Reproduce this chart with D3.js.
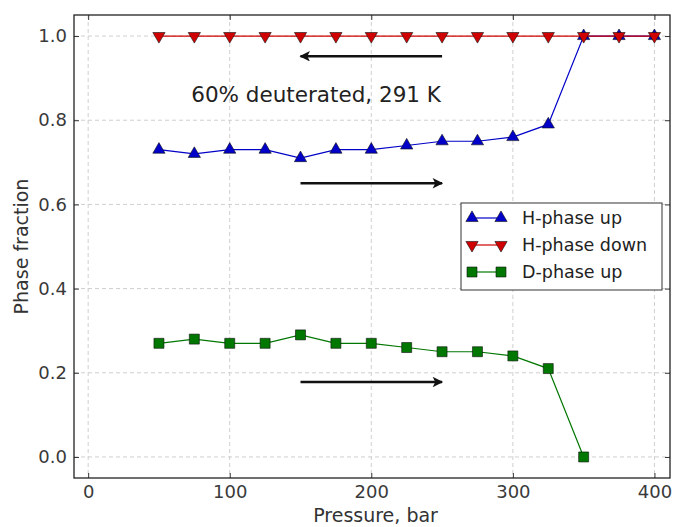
<!DOCTYPE html>
<html>
<head>
<meta charset="utf-8">
<script src="https://cdn.jsdelivr.net/npm/d3@7"></script>
<style>
  body { margin: 0; background: #fff; }
  svg { font-family: "DejaVu Sans", sans-serif; }
</style>
</head>
<body>
<div class="chart"></div>
<script>
// pressures and phase fractions
var pressure = [50, 75, 100, 125, 150, 175, 200, 225, 250, 275, 300, 325, 350, 375, 400];
var hUp = [0.73, 0.72, 0.73, 0.73, 0.71, 0.73, 0.73, 0.74, 0.75, 0.75, 0.76, 0.79, 1.0, 1.0, 1.0];
var hDown = [1.0, 1.0, 1.0, 1.0, 1.0, 1.0, 1.0, 1.0, 1.0, 1.0, 1.0, 1.0, 1.0, 1.0, 1.0];
var dPressure = [50, 75, 100, 125, 150, 175, 200, 225, 250, 275, 300, 325, 350];
var dUp = [0.27, 0.28, 0.27, 0.27, 0.29, 0.27, 0.27, 0.26, 0.25, 0.25, 0.24, 0.21, 0.0];
var xTicks = [0, 100, 200, 300, 400];
var yTicks = [0.0, 0.2, 0.4, 0.6, 0.8, 1.0];
// arrows: [from, to, level]
var arrows = [[250, 150, 0.952], [150, 250, 0.65], [150, 250, 0.178]];
var seriesNames = ["H-phase up", "H-phase down", "D-phase up"];

var width = 676, height = 527;
var margin = {top: 15, right: 6, bottom: 49, left: 74};

var svg = d3.select(".chart").append("svg")
    .attr("width", width)
    .attr("height", height);

var x = d3.scaleLinear().domain([-10, 411]).range([margin.left, width - margin.right]);
var y = d3.scaleLinear().domain([-0.05, 1.05]).range([height - margin.bottom, margin.top]);

var defs = svg.append("defs");
defs.append("marker")
    .attr("id", "head")
    .attr("viewBox", "0 0 10 10")
    .attr("refX", 9).attr("refY", 5)
    .attr("markerWidth", 5.5).attr("markerHeight", 4.2)
    .attr("markerUnits", "strokeWidth")
    .attr("orient", "auto")
  .append("path")
    .attr("d", "M0,0L10,5L0,10L2.5,5z")
    .attr("fill", "#111");

// grid
var grid = svg.append("g").attr("stroke", "#cfcfcf").attr("stroke-dasharray", "4,3").attr("stroke-width", 1);
xTicks.forEach(function(t) {
  grid.append("line").attr("x1", x(t)).attr("x2", x(t)).attr("y1", y.range()[1]).attr("y2", y.range()[0]);
});
yTicks.forEach(function(t) {
  grid.append("line").attr("x1", x.range()[0]).attr("x2", x.range()[1]).attr("y1", y(t)).attr("y2", y(t));
});

// axes
var xAxis = g => g
    .attr("transform", `translate(0, ${height - margin.bottom})`)
    .call(d3.axisBottom(x).tickValues(xTicks).tickSizeInner(-5).tickSizeOuter(0).tickPadding(7));
var yAxis = g => g
    .attr("transform", `translate(${margin.left}, 0)`)
    .call(d3.axisLeft(y).tickValues(yTicks).tickFormat(d3.format(".1f")).tickSizeInner(-5).tickSizeOuter(0).tickPadding(7));
var xTop = g => g
    .attr("transform", `translate(0, ${margin.top})`)
    .call(d3.axisTop(x).tickValues(xTicks).tickSizeInner(-5).tickSizeOuter(0).tickFormat(""));
var yRight = g => g
    .attr("transform", `translate(${width - margin.right}, 0)`)
    .call(d3.axisRight(y).tickValues(yTicks).tickSizeInner(-5).tickSizeOuter(0).tickFormat(""));

[xAxis, yAxis, xTop, yRight].forEach(function(a) {
  var g = svg.append("g").call(a);
  g.select(".domain").remove();
  g.selectAll("line").attr("stroke", "#333");
  g.selectAll("text").attr("fill", "#3a3a3a").style("font-size", "18px").style("font-family", "DejaVu Sans");
});

// frame
svg.append("rect")
    .attr("x", x.range()[0]).attr("y", y.range()[1])
    .attr("width", x.range()[1] - x.range()[0])
    .attr("height", y.range()[0] - y.range()[1])
    .attr("fill", "none").attr("stroke", "#222").attr("stroke-width", 1.3);

// series
var tri = d3.symbol().type(d3.symbolTriangle).size(65);
var sq = d3.symbol().type(d3.symbolSquare).size(100);
var line = d3.line().x(d => x(d[0])).y(d => y(d[1]));

function drawSeries(xs, ys, color, sym, rot) {
  var pts = xs.map((p, i) => [p, ys[i]]);
  svg.append("path").datum(pts)
      .attr("d", line).attr("fill", "none")
      .attr("stroke", color).attr("stroke-width", 1.2);
  svg.append("g").selectAll("path")
      .data(pts)
      .join("path")
      .attr("d", sym)
      .attr("transform", d => `translate(${x(d[0])},${y(d[1])}) rotate(${rot})`)
      .attr("fill", color).attr("stroke", "#111").attr("stroke-width", 0.6);
}

drawSeries(dPressure, dUp, "#007700", sq, 0);
drawSeries(pressure, hUp, "#0000c8", tri, 0);
drawSeries(pressure, hDown, "#d00000", tri, 180);

// arrows
svg.append("g").selectAll("line")
    .data(arrows)
    .join("line")
    .attr("x1", d => x(d[0])).attr("x2", d => x(d[1]))
    .attr("y1", d => y(d[2])).attr("y2", d => y(d[2]))
    .attr("stroke", "#111").attr("stroke-width", 2.5)
    .attr("marker-end", "url(#head)");

svg.append("text")
    .attr("x", x(161)).attr("y", 102)
    .attr("text-anchor", "middle")
    .attr("fill", "#222")
    .style("font-size", "21.5px")
    .text("60% deuterated, 291 K");

// legend
var leg = svg.append("g").attr("transform", "translate(461, 203)");
leg.append("rect").attr("width", 201).attr("height", 87)
    .attr("fill", "#fff").attr("stroke", "#333").attr("stroke-width", 1);
var legItems = [
  {name: seriesNames[0], color: "#0000c8", sym: tri, rot: 0},
  {name: seriesNames[1], color: "#d00000", sym: tri, rot: 180},
  {name: seriesNames[2], color: "#007700", sym: sq, rot: 0}
];
legItems.forEach(function(d, i) {
  var yy = 15 + i * 27;
  leg.append("line").attr("x1", 11).attr("x2", 40).attr("y1", yy).attr("y2", yy)
      .attr("stroke", d.color).attr("stroke-width", 1.2);
  [11, 40].forEach(function(xx) {
    leg.append("path").attr("d", d.sym)
        .attr("transform", `translate(${xx},${yy}) rotate(${d.rot})`)
        .attr("fill", d.color).attr("stroke", "#111").attr("stroke-width", 0.6);
  });
  leg.append("text").attr("x", 61).attr("y", yy + 6)
      .attr("fill", "#222").style("font-size", "17.5px").text(d.name);
});

// axis labels
svg.append("text")
    .attr("x", x(203)).attr("y", 522)
    .attr("text-anchor", "middle").attr("fill", "#333")
    .style("font-size", "19px")
    .text("Pressure, bar");
svg.append("text")
    .attr("transform", `translate(28, ${y(0.5)}) rotate(-90)`)
    .attr("text-anchor", "middle").attr("fill", "#333")
    .style("font-size", "19px")
    .text("Phase fraction");
</script>
</body>
</html>
